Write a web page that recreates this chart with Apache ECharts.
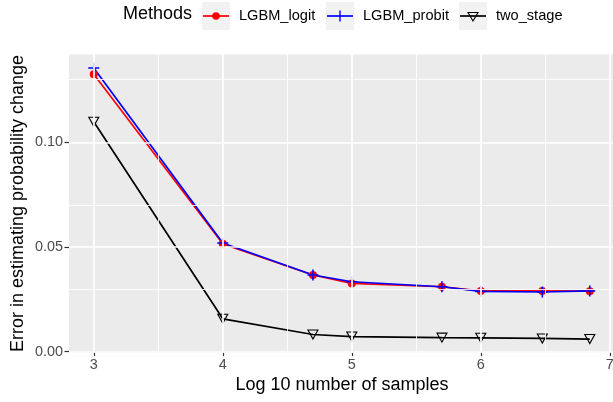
<!DOCTYPE html>
<html>
<head>
<meta charset="utf-8">
<script src="https://cdn.jsdelivr.net/npm/echarts@6/dist/echarts.min.js"></script>
<style>
  html, body { margin: 0; padding: 0; background: #fff; }
  #chart { width: 613px; height: 402px; }
</style>
</head>
<body>
<div id="chart"></div>
<script>
// log10 of the sample sizes
const logSamples = [3, 4, 4.699, 5, 5.699, 6, 6.477, 6.845];
const lgbmLogit  = [0.1325, 0.0515, 0.0366, 0.0326, 0.0310, 0.0290, 0.0290, 0.0289];
const lgbmProbit = [0.1355, 0.0519, 0.0366, 0.0334, 0.0310, 0.0288, 0.0285, 0.0290];
const twoStage   = [0.1098, 0.0157, 0.0082, 0.0072, 0.0067, 0.0066, 0.0063, 0.0060];
const methodNames = ['LGBM_logit', 'LGBM_probit', 'two_stage'];
const xTicks = [3, 4, 5, 6, 7];
const xMinor = [3.5, 4.5, 5.5, 6.5];
const yTicks = [0, 0.05, 0.10];
const yMinor = [0.025, 0.075, 0.125];

const FONT = '"Liberation Sans", Arial, Helvetica, sans-serif';
const pairs = ys => logSamples.map((x, i) => [x, ys[i]]);
const plusPath = 'path://M4.3,0L5.7,0L5.7,4.3L10,4.3L10,5.7L5.7,5.7L5.7,10L4.3,10L4.3,5.7L0,5.7L0,4.3L4.3,4.3Z';

const chart = echarts.init(document.getElementById('chart'), null, { renderer: 'canvas' });

// white panel grid lines (major + minor)
const gridLines = [];
xTicks.forEach(v => gridLines.push({ xAxis: v, lineStyle: { width: 1.7 } }));
xMinor.forEach(v => gridLines.push({ xAxis: v, lineStyle: { width: 0.85 } }));
yTicks.forEach(v => gridLines.push({ yAxis: v, lineStyle: { width: 1.7 } }));
yMinor.forEach(v => gridLines.push({ yAxis: v, lineStyle: { width: 0.85 } }));

// legend keys along the top
const legendX = [202, 326, 459];
const legendColors = ['#FF0000', '#0000FF', '#000000'];
const legendEls = [{
  type: 'text', left: 123, top: 5,
  style: { text: 'Methods', font: '18px ' + FONT, fill: '#000' }
}];
methodNames.forEach((name, i) => {
  const x0 = legendX[i], cy = 16, w = 28;
  legendEls.push({ type: 'rect', shape: { x: x0, y: cy - 14, width: w, height: 28 }, style: { fill: '#F2F2F2' } });
  legendEls.push({ type: 'line', shape: { x1: x0 + 1, y1: cy, x2: x0 + w - 1, y2: cy }, style: { stroke: legendColors[i], lineWidth: 1.7 } });
  if (i === 0) {
    legendEls.push({ type: 'circle', shape: { cx: x0 + w / 2, cy: cy, r: 3.8 }, style: { fill: legendColors[i] } });
  } else if (i === 1) {
    legendEls.push({ type: 'line', shape: { x1: x0 + w / 2, y1: cy - 5.5, x2: x0 + w / 2, y2: cy + 5.5 }, style: { stroke: legendColors[i], lineWidth: 1.4 } });
  } else {
    const cx = x0 + w / 2;
    legendEls.push({ type: 'polygon', shape: { points: [[cx - 5, cy - 3.5], [cx + 5, cy - 3.5], [cx, cy + 5]] }, style: { fill: 'rgba(0,0,0,0)', stroke: '#000', lineWidth: 1.1 } });
  }
  legendEls.push({
    type: 'text', left: x0 + w + 9, top: cy - 8,
    style: { text: name, font: '14.6px ' + FONT, fill: '#000' }
  });
});

const option = {
  animation: false,
  backgroundColor: '#ffffff',
  grid: {
    left: 69, right: 0, top: 54.4, bottom: 49.3,
    containLabel: false, outerBoundsMode: 'none',
    show: true, backgroundColor: '#EBEBEB', borderWidth: 0
  },
  xAxis: {
    type: 'value', min: 2.808, max: 7.025,
    axisLine: { show: false },
    axisTick: { show: true, customValues: xTicks, length: 4.5, lineStyle: { color: '#333333', width: 1.2 } },
    axisLabel: { customValues: xTicks, color: '#4D4D4D', fontSize: 14.4, fontFamily: FONT, margin: 5 },
    splitLine: { show: false }
  },
  yAxis: {
    type: 'value', min: -0.0005, max: 0.142,
    axisLine: { show: false },
    axisTick: { show: true, customValues: yTicks, length: 4.5, lineStyle: { color: '#333333', width: 1.2 } },
    axisLabel: {
      customValues: yTicks, color: '#4D4D4D', fontSize: 14.4, fontFamily: FONT, margin: 6,
      formatter: v => v.toFixed(2)
    },
    splitLine: { show: false }
  },
  graphic: [
    {
      type: 'text', x: 18, y: 203.5, rotation: Math.PI / 2,
      style: { text: 'Error in estimating probability change', font: '18px ' + FONT, fill: '#000', align: 'center', verticalAlign: 'middle' }
    },
    {
      type: 'text', x: 342, y: 385,
      style: { text: 'Log 10 number of samples', font: '18px ' + FONT, fill: '#000', align: 'center', verticalAlign: 'middle' }
    },
    ...legendEls
  ],
  series: [
    {
      type: 'line', data: [], silent: true,
      markLine: {
        silent: true, symbol: 'none', animation: false,
        label: { show: false },
        lineStyle: { color: '#FFFFFF', type: 'solid', width: 1.7 },
        emphasis: { disabled: true },
        data: gridLines
      }
    },
    {
      name: methodNames[0], type: 'line', data: pairs(lgbmLogit),
      symbol: 'circle', symbolSize: 8, showAllSymbol: true,
      lineStyle: { color: '#FF0000', width: 1.7 },
      itemStyle: { color: '#FF0000' }
    },
    {
      name: methodNames[1], type: 'line', data: pairs(lgbmProbit),
      symbol: plusPath, symbolSize: 11, showAllSymbol: true,
      lineStyle: { color: '#0000FF', width: 1.7 },
      itemStyle: { color: '#0000FF' }
    },
    {
      name: methodNames[2], type: 'line', data: pairs(twoStage),
      symbol: 'triangle', symbolRotate: 180, symbolSize: [10, 9], showAllSymbol: true,
      lineStyle: { color: '#000000', width: 1.7 },
      itemStyle: { color: 'rgba(0,0,0,0)', borderColor: '#000000', borderWidth: 1.1 }
    }
  ]
};
chart.setOption(option);
</script>
</body>
</html>
